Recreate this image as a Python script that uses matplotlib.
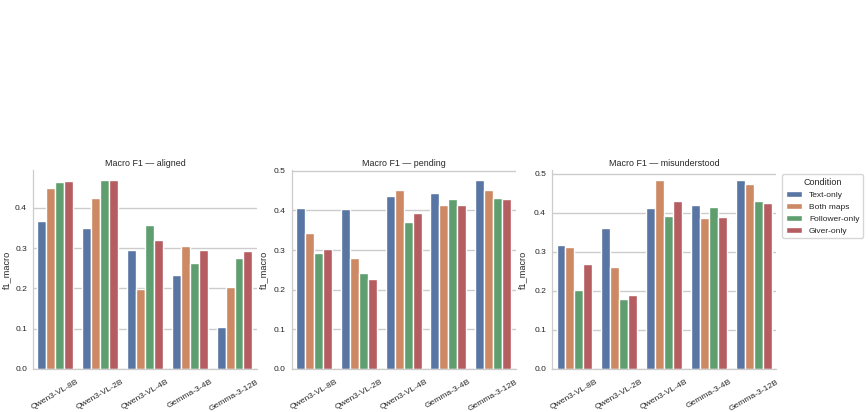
import pandas as pd
import matplotlib
matplotlib.use('Agg')
import matplotlib.pyplot as plt
import seaborn as sns

# Macro F1 per model and map condition, three outcome classes
models = ['Qwen3-VL-8B', 'Qwen3-VL-2B', 'Qwen3-VL-4B', 'Gemma-3-4B', 'Gemma-3-12B']
conditions = ['Text-only', 'Both maps', 'Follower-only', 'Giver-only']

# values[condition] = scores in model order
aligned = {
    'Text-only':     [0.368, 0.349, 0.296, 0.233, 0.103],
    'Both maps':     [0.448, 0.424, 0.197, 0.304, 0.202],
    'Follower-only': [0.463, 0.468, 0.356, 0.263, 0.274],
    'Giver-only':    [0.466, 0.470, 0.320, 0.294, 0.292],
}
pending = {
    'Text-only':     [0.407, 0.403, 0.437, 0.443, 0.478],
    'Both maps':     [0.342, 0.280, 0.453, 0.415, 0.451],
    'Follower-only': [0.293, 0.243, 0.370, 0.430, 0.432],
    'Giver-only':    [0.303, 0.226, 0.394, 0.415, 0.429],
}
misunderstood = {
    'Text-only':     [0.318, 0.361, 0.413, 0.419, 0.483],
    'Both maps':     [0.311, 0.262, 0.485, 0.386, 0.473],
    'Follower-only': [0.201, 0.179, 0.392, 0.415, 0.431],
    'Giver-only':    [0.269, 0.188, 0.431, 0.388, 0.425],
}
panels = [('aligned', aligned), ('pending', pending), ('misunderstood', misunderstood)]

sns.set_theme(style='whitegrid')
plt.rcParams['font.family'] = ['Liberation Sans', 'DejaVu Sans']

fig = plt.figure(figsize=(8.68, 4.12), dpi=100)
lefts = [0.038, 0.336, 0.636]
ylab_x = [-0.098, -0.103, -0.11]

for i, (name, vals) in enumerate(panels):
    rows = []
    for c in conditions:
        for m, v in zip(models, vals[c]):
            rows.append({'model': m, 'Condition': c, 'f1_macro': v})
    df = pd.DataFrame(rows)

    ax = fig.add_axes([lefts[i], 0.105, 0.258, 0.482])
    sns.barplot(data=df, x='model', y='f1_macro', hue='Condition',
                order=models, hue_order=conditions, palette='deep',
                ax=ax, legend=(i == 2))
    ax.set_title(f'Macro F1 \u2014 {name}', fontsize=6.4, pad=3)
    ax.set_xlabel('')
    ax.set_ylabel('f1_macro', fontsize=6.6)
    ax.yaxis.set_label_coords(ylab_x[i], 0.5)
    ax.tick_params(axis='y', labelsize=6.1, length=0, pad=4.3)
    ax.tick_params(axis='x', labelsize=6.1, rotation=30, pad=1)
    for s in ax.spines.values():
        s.set_linewidth(0.9)
    ax.grid(axis='y', linewidth=1.0)
    sns.despine(ax=ax)
    if i == 2:
        ax.legend(title='Condition', loc='upper left', bbox_to_anchor=(1.01, 1.0),
                  fontsize=6.0, title_fontsize=6.5, handlelength=2.0)

fig.savefig('out.png', dpi=100)
